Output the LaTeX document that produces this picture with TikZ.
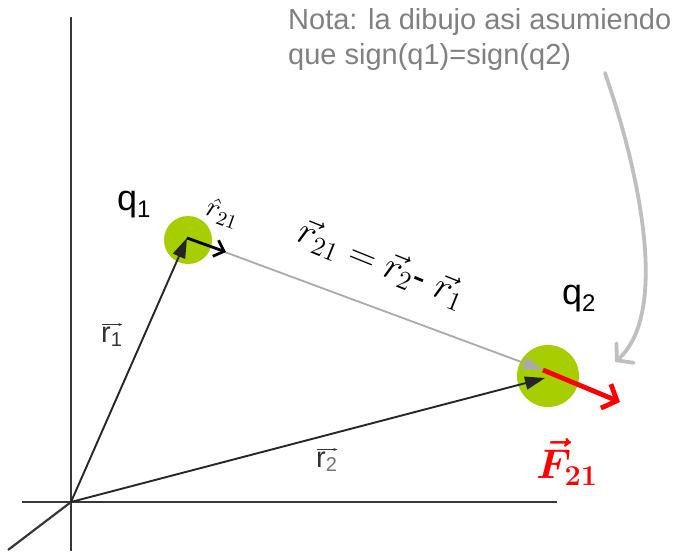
\documentclass[tikz,border=0pt]{standalone}
\usepackage{amsmath}
\usepackage{bm}
\usepackage{graphicx}
\usepackage[no-math]{fontspec}
\setmainfont{Liberation Sans}
\usetikzlibrary{arrows.meta}
\definecolor{ball}{RGB}{166,206,0}
\definecolor{notegray}{RGB}{128,128,128}
\definecolor{linegray}{RGB}{170,170,170}
\definecolor{curvegray}{RGB}{191,191,191}
\definecolor{axisgray}{RGB}{55,55,55}
\begin{document}
\begin{tikzpicture}[x=1pt,y=-1pt,
  axis/.style={draw=axisgray,line width=2.2},
  posvec/.style={draw=black!85,line width=1.9,-{Triangle[length=20,width=13]}},
  charge/.style={circle,fill=ball,draw=none,inner sep=0},
  lbl/.style={inner sep=0,anchor=base west},
]
\useasboundingbox (0,0) rectangle (687,551);
% axes
\coordinate (O) at (71,502);
\coordinate (ytop) at (71,17);
\coordinate (ybot) at (71,551);
\coordinate (xleft) at (22,502);
\coordinate (xright) at (557,502);
\coordinate (zend) at (8,550);
\draw[axis] (ytop) -- (ybot);
\draw[axis] (xleft) -- (xright);
\draw[axis] (O) -- (zend);
% charges
\node[charge,minimum size=48] (q1) at (188,240) {};
\node[charge,minimum size=62] (q2) at (548,376) {};
\coordinate (q1c) at (187,238);
\coordinate (q2g) at (543,370);
\coordinate (q2b) at (545,378);
% r21 gray line
\draw[draw=linegray,line width=1.8,-{Triangle[length=20,width=13]}] (q1c) -- (q2g);
% position vectors
\draw[posvec] (O) -- (q1c);
\draw[posvec] (O) -- (q2b);
% unit vector
\coordinate (uhat) at (226,252);
\draw[line width=2.8,-{Straight Barb[length=9,width=17]}] (q1c) -- (uhat);
% force
\coordinate (Ftip) at (620,402);
\draw[red,line width=4.8,-{Straight Barb[length=12,width=26]}] (q2g) -- (Ftip);
% note curve
\coordinate (nstart) at (605,73);
\coordinate (nend) at (615,362);
\draw[curvegray,line width=3.8,line cap=round,-{Straight Barb[length=11,width=26,line cap=round]}]
  (nstart) .. controls (642,180) and (668,315) .. (nend);
% texts
\node[lbl,text=notegray,font=\fontsize{29}{34}\selectfont] (n1) at (288,30) {Nota: la dibujo asi asumiendo};
\node[lbl,text=notegray,font=\fontsize{29}{34}\selectfont] (n2) at (288,64) {que sign(q1)=sign(q2)};
\node[lbl,font=\fontsize{36}{40}\selectfont] (lq1) at (117,210) {q\raisebox{-0.22em}{\fontsize{24}{24}\selectfont 1}};
\node[lbl,font=\fontsize{36}{40}\selectfont] (lq2) at (562,304) {q\raisebox{-0.22em}{\fontsize{24}{24}\selectfont 2}};
\node[lbl,text=black!80,font=\fontsize{29}{30}\selectfont] (lr1) at (101,342)
  {\setbox0\hbox{r\raisebox{-0.15em}{\fontsize{20}{20}\selectfont 1}}\rlap{\raisebox{0.55em}{\tikz[x=1pt]\draw[line width=0.8,-{Stealth[length=4,width=3]}] (0,0)--(\wd0,0);}}\box0};
\node[lbl,text=black!80,font=\fontsize{29}{30}\selectfont] (lr2) at (316,467)
  {\setbox0\hbox{r\raisebox{-0.15em}{\fontsize{20}{20}\selectfont\color{black!55}2}}\rlap{\raisebox{0.55em}{\tikz[x=1pt]\draw[line width=0.8,-{Stealth[length=4,width=3]}] (0,0)--(\wd0,0);}}\box0};
\node[rotate=-22,inner sep=0,font=\fontsize{17.28}{20}\selectfont] (eq) at (382,264)
  {\scalebox{2.2}{$\vec{r}_{21} = \vec{r}_{2}$\text{- }$\vec{r}_{1}$}};
\node[rotate=-20,inner sep=0,font=\fontsize{14.4}{16}\selectfont] (lu) at (223,213)
  {\scalebox{2}{$\hat{r}_{21}$}};
\node[inner sep=0,text=red,font=\fontsize{20.74}{24}\selectfont] (lF) at (567,462)
  {\scalebox{2}{$\bm{\vec{F}}_{\mathbf{21}}$}};
\end{tikzpicture}
\end{document}
